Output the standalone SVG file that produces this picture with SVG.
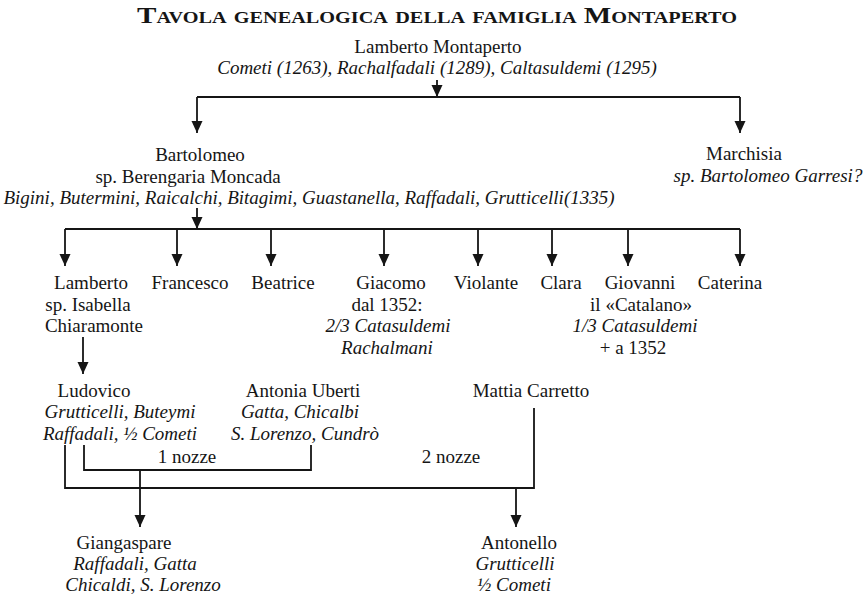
<svg xmlns="http://www.w3.org/2000/svg" width="865" height="598" viewBox="0 0 865 598">
  <style>
    text { font-family: "Liberation Serif", "Times New Roman", serif; font-size: 19px; fill: #151515; text-anchor: middle; }
    .it { font-style: italic; }
    .title { font-weight: bold; font-variant: small-caps; font-size: 23px; }
    .ln { fill: none; stroke: #151515; stroke-width: 1.8; }
  </style>
  <defs>
    <marker id="arrow" markerUnits="userSpaceOnUse" markerWidth="12" markerHeight="14" refX="12" refY="5.5" orient="auto">
      <path d="M0,0 L12,5.5 L0,11 z" fill="#151515"/>
    </marker>
  </defs>
  <rect width="865" height="598" fill="#ffffff"/>

  <text class="title" x="437" y="23" textLength="600" lengthAdjust="spacingAndGlyphs">Tavola genealogica della famiglia Montaperto</text>

  <!-- connectors -->
  <g id="connectors">
    <!-- Lamberto Montaperto to his children -->
    <path class="ln" d="M437,80 V97" marker-end="url(#arrow)"/>
    <path class="ln" d="M197,97 H740"/>
    <path class="ln" d="M197,97 V133" marker-end="url(#arrow)"/>
    <path class="ln" d="M740,97 V133" marker-end="url(#arrow)"/>
    <!-- Bartolomeo to his children -->
    <path class="ln" d="M197,208 V229" marker-end="url(#arrow)"/>
    <path class="ln" d="M65,229 H740"/>
    <path class="ln" d="M65,229 V266" marker-end="url(#arrow)"/>
    <path class="ln" d="M177,229 V266" marker-end="url(#arrow)"/>
    <path class="ln" d="M271,229 V266" marker-end="url(#arrow)"/>
    <path class="ln" d="M384,229 V266" marker-end="url(#arrow)"/>
    <path class="ln" d="M478,229 V266" marker-end="url(#arrow)"/>
    <path class="ln" d="M552,229 V266" marker-end="url(#arrow)"/>
    <path class="ln" d="M628,229 V266" marker-end="url(#arrow)"/>
    <path class="ln" d="M740,229 V266" marker-end="url(#arrow)"/>
    <!-- Lamberto to Ludovico -->
    <path class="ln" d="M83,337 V374" marker-end="url(#arrow)"/>
    <!-- first marriage: Ludovico + Antonia Uberti -->
    <path class="ln" d="M84,445 V470 H311 V445"/>
    <path class="ln" d="M140,470 V527" marker-end="url(#arrow)"/>
    <!-- second marriage: Ludovico + Mattia Carretto -->
    <path class="ln" d="M65,445 V488 H534 V408"/>
    <path class="ln" d="M516,488 V527" marker-end="url(#arrow)"/>
  </g>

  <g id="lamberto-montaperto">
    <text x="438" y="53">Lamberto Montaperto</text>
    <text class="it" x="437" y="74">Cometi (1263), Rachalfadali (1289), Caltasuldemi (1295)</text>
  </g>

  <g id="bartolomeo">
    <text x="200" y="161">Bartolomeo</text>
    <text x="188" y="183">sp. Berengaria Moncada</text>
    <text class="it" x="309" y="204">Bigini, Butermini, Raicalchi, Bitagimi, Guastanella, Raffadali, Grutticelli(1335)</text>
  </g>

  <g id="marchisia">
    <text x="744" y="160">Marchisia</text>
    <text class="it" x="768" y="182">sp. Bartolomeo Garresi?</text>
  </g>

  <g id="lamberto">
    <text x="91" y="289">Lamberto</text>
    <text x="88" y="310.5">sp. Isabella</text>
    <text x="94" y="332">Chiaramonte</text>
  </g>
  <g id="francesco"><text x="190" y="289">Francesco</text></g>
  <g id="beatrice"><text x="283" y="289">Beatrice</text></g>
  <g id="giacomo">
    <text x="391" y="289">Giacomo</text>
    <text x="387" y="310.5">dal 1352:</text>
    <text class="it" x="388" y="332">2/3 Catasuldemi</text>
    <text class="it" x="387" y="353.5">Rachalmani</text>
  </g>
  <g id="violante"><text x="486" y="289">Violante</text></g>
  <g id="clara"><text x="561" y="289">Clara</text></g>
  <g id="giovanni">
    <text x="640" y="289">Giovanni</text>
    <text x="641" y="310.5">il «Catalano»</text>
    <text class="it" x="635" y="332">1/3 Catasuldemi</text>
    <text x="633" y="353.5">+ a 1352</text>
  </g>
  <g id="caterina"><text x="730" y="289">Caterina</text></g>

  <g id="ludovico">
    <text x="94" y="397">Ludovico</text>
    <text class="it" x="120" y="418">Grutticelli, Buteymi</text>
    <text class="it" x="120" y="440">Raffadali, ½ Cometi</text>
  </g>
  <g id="antonia-uberti">
    <text x="303" y="397">Antonia Uberti</text>
    <text class="it" x="300" y="418">Gatta, Chicalbi</text>
    <text class="it" x="305" y="440">S. Lorenzo, Cundrò</text>
  </g>
  <g id="mattia-carretto">
    <text x="531" y="397">Mattia Carretto</text>
  </g>
  <text x="187" y="463">1 nozze</text>
  <text x="451" y="463">2 nozze</text>

  <g id="giangaspare">
    <text x="124" y="549">Giangaspare</text>
    <text class="it" x="135" y="570">Raffadali, Gatta</text>
    <text class="it" x="143" y="591">Chicaldi, S. Lorenzo</text>
  </g>
  <g id="antonello">
    <text x="519" y="549">Antonello</text>
    <text class="it" x="515" y="570">Grutticelli</text>
    <text class="it" x="514" y="591">½ Cometi</text>
  </g>
</svg>
